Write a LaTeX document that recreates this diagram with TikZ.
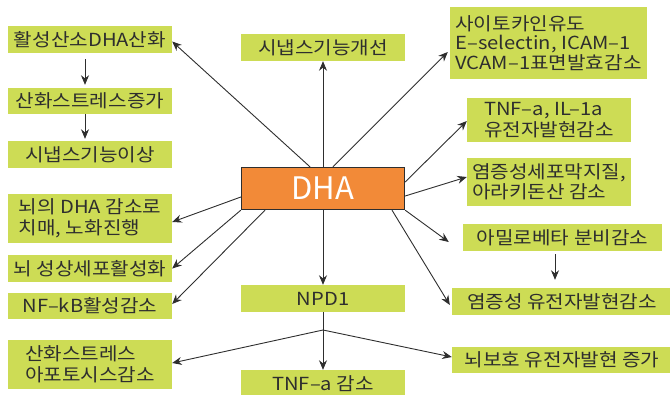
\documentclass[tikz,border=0pt]{standalone}
\usepackage{fontspec}
\setmainfont{Noto Sans CJK KR}[FakeStretch=1.12]
\newfontfamily\dhafont{Noto Sans CJK KR}
\usetikzlibrary{arrows.meta}
\definecolor{boxgreen}{HTML}{CDDC55}
\definecolor{dhaorange}{HTML}{F28A38}
\definecolor{inkgray}{HTML}{2E2E2E}

\begin{document}
\begin{tikzpicture}[x=1pt,y=-1pt,>={Stealth[length=9.5pt,width=8pt]},
  box/.style={fill=boxgreen,inner sep=0pt,minimum width=164pt,minimum height=27pt,
    text=inkgray,font=\fontsize{18}{20.5}\selectfont,align=left},
  arr/.style={->,inkgray,line width=0.9pt}]
  \useasboundingbox (0,0) rectangle (670,394);
  % Centre
  \node[draw=inkgray,line width=1.3pt,fill=dhaorange,minimum width=163pt,minimum height=42pt,
    text=white,font=\dhafont\fontsize{31}{31}\selectfont] (dha) at (323,188.5) {DHA};
  \node[box] (imp) at (323,47.5) {시냅스기능개선};
  \node[box] (npd) at (323,298.5) {NPD1};
  \node[box] (tnf) at (323,383.5) {TNF–a 감소};
  % Left column
  \node[box] (ros) at (90,39.5) {활성산소DHA산화};
  \node[box,minimum height=26pt] (oxi) at (90,101) {산화스트레스증가};
  \node[box] (syn) at (90,154.5) {시냅스기능이상};
  \node[box,minimum height=49pt] (dem) at (90,218.5) {뇌의 DHA 감소로\\치매, 노화진행};
  \node[box] (ast) at (90,268.5) {뇌 성상세포활성화};
  \node[box,minimum height=26pt] (nfkb) at (90,306) {NF–kB활성감소};
  \node[box,minimum height=49pt] (apo) at (90,364.5) {산화스트레스\\아포토시스감소};
  % Right column
  \node[box,minimum width=197pt,minimum height=72pt,font=\fontsize{18}{19.5}\selectfont]
    (cyt) at (548.5,43) {사이토카인유도\\E–selectin, ICAM–1\\VCAM–1표면발효감소};
  \node[box,minimum height=44pt] (tnfil) at (549,120) {TNF–a, IL–1a\\유전자발현감소};
  \node[box,minimum height=48pt] (memb) at (549,182) {염증성세포막지질,\\아라키돈산 감소};
  \node[box,minimum width=199pt] (amy) at (562.5,237.5) {아밀로베타 분비감소};
  \node[box,minimum width=220pt] (infl) at (562,301.5) {염증성 유전자발현감소};
  \node[box,minimum width=220pt,minimum height=26pt] (prot) at (562,360) {뇌보호 유전자발현 증가};
  \coordinate (br) at (323,330);
  % Arrows from DHA
  \draw[arr] ([xshift=-13pt]dha.north) -- ([yshift=-2pt]ros.east);
  \draw[arr] (dha.north) -- (imp.south);
  \draw[arr] ([xshift=10pt]dha.north) -- ([xshift=-2pt,yshift=-9pt]cyt.west);
  \draw[arr] ([yshift=6.5pt]dha.east) -- ([yshift=-1pt]tnfil.west);
  \draw[arr] ([yshift=-7.5pt]dha.east) -- ([yshift=5pt]memb.west);
  \draw[arr] (dha.south east) -- ([xshift=-14pt,yshift=-4.5pt]amy.west);
  \draw[arr] ([xshift=69pt]dha.south) -- ([xshift=-2pt,yshift=-3.5pt]infl.west);
  \draw[arr] (dha.south) -- (npd.north);
  \draw[arr] ([yshift=-8.5pt]dha.west) -- ([yshift=-3.5pt]dem.east);
  \draw[arr] (dha.south west) -- (ast.east);
  \draw[arr] ([xshift=-58pt]dha.south) -- ([yshift=2pt]nfkb.east);
  % NPD1 branch
  \draw[arr] (npd.south) -- (tnf.north);
  \draw[arr] (br) -- ([yshift=1.5pt]apo.east);
  \draw[arr] (br) -- ([yshift=3pt]prot.west);
  % Chains
  \draw[arr,shorten <=6pt,shorten >=3pt] ([xshift=-5pt]ros.south) -- ([xshift=-5pt]ros.south |- oxi.north);
  \draw[arr,shorten >=2pt] ([xshift=-5pt]oxi.south) -- ([xshift=-5pt]oxi.south |- syn.north);
  \draw[arr,shorten <=3pt,shorten >=8pt] ([xshift=-7.5pt]amy.south) -- ([xshift=-7.5pt]amy.south |- infl.north);
\end{tikzpicture}
\end{document}
